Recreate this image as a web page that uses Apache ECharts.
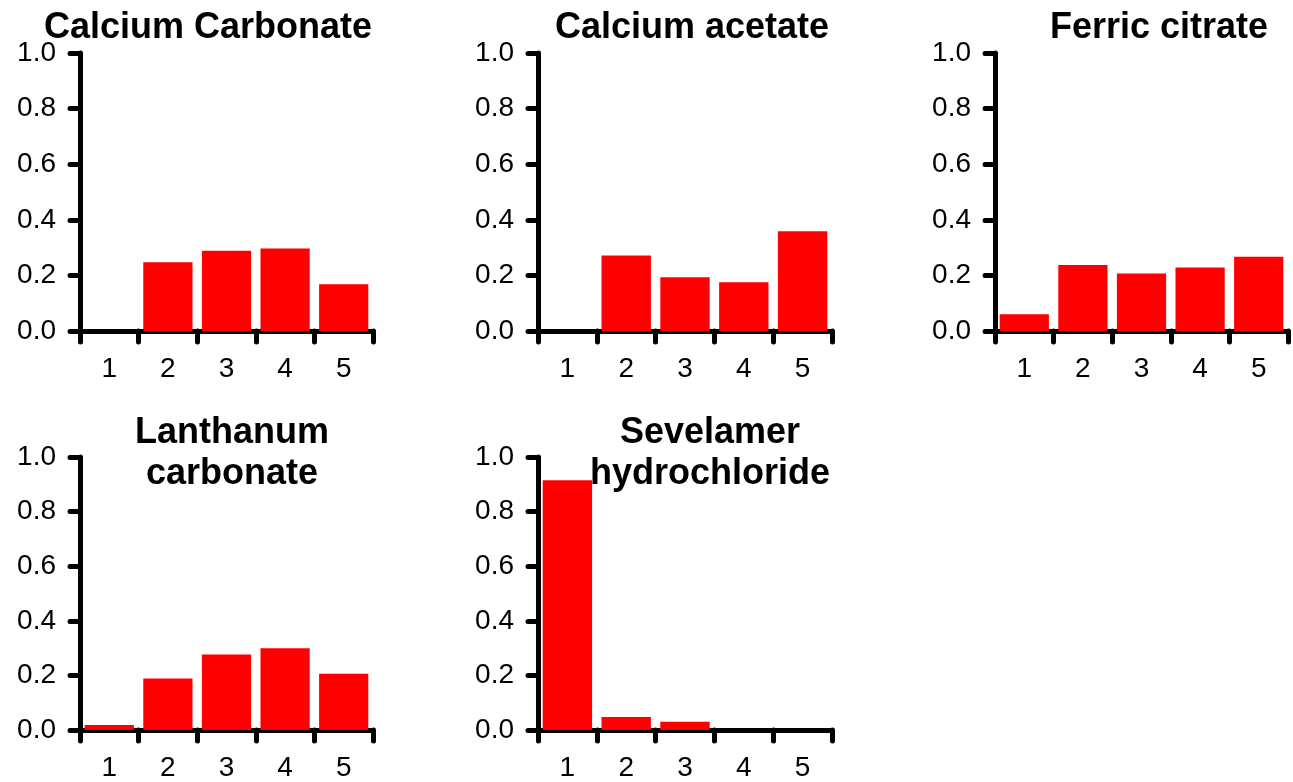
<!DOCTYPE html>
<html>
<head>
<meta charset="utf-8">
<script src="https://cdn.jsdelivr.net/npm/echarts@6/dist/echarts.min.js"></script>
<style>html,body{margin:0;padding:0;background:#fff}#c{width:1293px;height:782px}</style>
</head>
<body>
<div id="c"></div>
<script>
const categories = ['1', '2', '3', '4', '5'];
const yTicks = [0, 0.2, 0.4, 0.6, 0.8, 1.0];
const titles = ['Calcium Carbonate', 'Calcium acetate', 'Ferric citrate', 'Lanthanum\ncarbonate', 'Sevelamer\nhydrochloride'];
const calciumCarbonate = [0, 0.247, 0.289, 0.297, 0.168];
const calciumAcetate = [0, 0.272, 0.193, 0.175, 0.359];
const ferricCitrate = [0.060, 0.237, 0.207, 0.228, 0.267];
const lanthanumCarbonate = [0.018, 0.189, 0.277, 0.299, 0.206];
const sevelamerHydrochloride = [0.915, 0.048, 0.030, 0, 0];

const seriesData = [calciumCarbonate, calciumAcetate, ferricCitrate, lanthanumCarbonate, sevelamerHydrochloride];
const grids = [
  {left: 80, top: 53, width: 293, height: 278},
  {left: 538, top: 53, width: 294, height: 278},
  {left: 995, top: 53, width: 293, height: 278},
  {left: 80, top: 457, width: 293, height: 277},
  {left: 538, top: 457, width: 294, height: 277}
];
const titlePos = [[208, 28], [692, 28], [1159, 28], [232, 454], [710, 454]];
const FONT = '"Liberation Sans", Arial, sans-serif';
const axisLineStyle = {color: '#000', width: 5, cap: 'round'};

const option = {
  animation: false,
  backgroundColor: '#fff',
  grid: grids,
  xAxis: grids.map((g, i) => ({
    type: 'category', gridIndex: i, data: categories,
    boundaryGap: true,
    axisLine: {show: true, onZero: false, lineStyle: axisLineStyle},
    axisTick: {show: true, length: 11, alignWithLabel: false, lineStyle: axisLineStyle},
    axisLabel: {margin: 24, fontSize: 28, color: '#000', fontFamily: FONT},
    splitLine: {show: false}
  })),
  yAxis: grids.map((g, i) => ({
    type: 'value', gridIndex: i, min: 0, max: 1, interval: 0.2,
    axisLine: {show: true, lineStyle: axisLineStyle},
    axisTick: {show: true, length: 10, lineStyle: axisLineStyle},
    axisLabel: {margin: 24, fontSize: 28, color: '#000', fontFamily: FONT,
      formatter: v => v.toFixed(1)},
    splitLine: {show: false}
  })),
  series: seriesData.map((d, i) => ({
    type: 'bar', xAxisIndex: i, yAxisIndex: i, data: d,
    barCategoryGap: '16%',
    itemStyle: {color: '#ff0000'},
    z: 1
  })),
  graphic: titles.map((t, i) => ({
    type: 'text', x: titlePos[i][0], y: titlePos[i][1], z: 100,
    style: {text: t, fill: '#000', font: 'bold 36px ' + FONT,
      textAlign: 'center', textVerticalAlign: 'middle', lineHeight: 41}
  }))
};
const chart = echarts.init(document.getElementById('c'), null, {renderer: 'canvas'});
chart.setOption(option);
</script>
</body>
</html>
